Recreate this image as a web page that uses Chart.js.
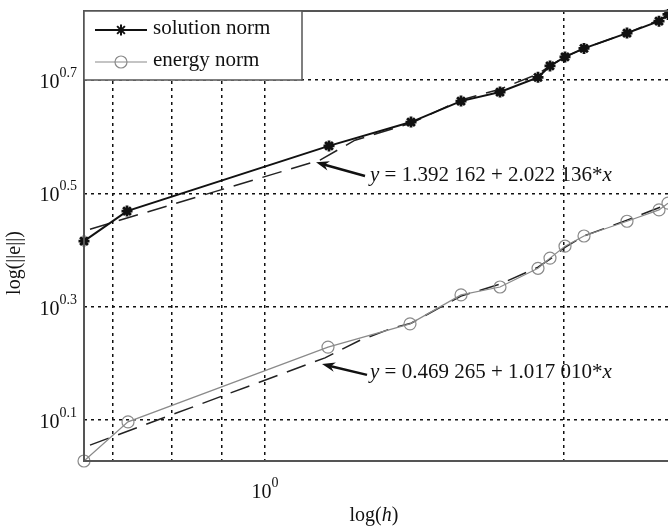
<!DOCTYPE html>
<html lang="en">
<head>
  <meta charset="UTF-8" />
  <title>log error vs log h</title>
  <script src="https://cdn.jsdelivr.net/npm/chart.js"></script>
  <style>
    body {
      margin: 0;
      background: #ffffff;
    }
    #wrap {
      width: 668px;
      height: 528px;
    }
  </style>
</head>
<body>
  <div id="wrap"><canvas id="errChart" width="668" height="528"></canvas></div>

  <script>
    // all values are exponents (log10)
    const solutionX = [-0.181, -0.138, 0.064, 0.146, 0.196, 0.235, 0.273, 0.285, 0.300, 0.319, 0.362, 0.394, 0.403];
    const solutionY = [0.416, 0.469, 0.584, 0.626, 0.663, 0.679, 0.705, 0.725, 0.741, 0.756, 0.783, 0.804, 0.816];

    const energyX = [-0.181, -0.137, 0.063, 0.145, 0.196, 0.235, 0.273, 0.285, 0.300, 0.319, 0.362, 0.394, 0.403];
    const energyY = [0.028, 0.097, 0.229, 0.270, 0.321, 0.335, 0.368, 0.386, 0.407, 0.425, 0.451, 0.471, 0.483];

    const solutionFitX = [-0.175, 0.055, 0.090, 0.146, 0.196, 0.235, 0.273, 0.285, 0.300, 0.319, 0.362, 0.403];
    const solutionFitY = [0.437, 0.559, 0.594, 0.624, 0.665, 0.684, 0.711, 0.725, 0.741, 0.756, 0.783, 0.813];

    const energyFitX = [-0.175, 0.060, 0.095, 0.128, 0.146, 0.196, 0.235, 0.273, 0.285, 0.300, 0.319, 0.362, 0.403];
    const energyFitY = [0.056, 0.210, 0.241, 0.263, 0.271, 0.319, 0.340, 0.370, 0.384, 0.405, 0.425, 0.453, 0.481];

    const gridX = [-0.152, -0.093, -0.043, 0, 0.299];
    const gridY = [0.1, 0.3, 0.5, 0.7];
    const xTickLabels = [{ value: 0, base: '10', exp: '0' }];
    const yTickLabels = [
      { value: 0.1, base: '10', exp: '0.1' },
      { value: 0.3, base: '10', exp: '0.3' },
      { value: 0.5, base: '10', exp: '0.5' },
      { value: 0.7, base: '10', exp: '0.7' }
    ];

    const fitLabels = [
      { text: ['y', ' = 1.392 162 + 2.022 136*', 'x'], tx: 0.105, ty: 0.531, from: [0.100, 0.531], to: [0.051, 0.555] },
      { text: ['y', ' = 0.469 265 + 1.017 010*', 'x'], tx: 0.105, ty: 0.185, from: [0.102, 0.180], to: [0.057, 0.199] }
    ];

    const SERIF = "'Liberation Serif', 'Times New Roman', serif";
    const zip = (xs, ys) => xs.map((x, i) => ({ x: x, y: ys[i] }));

    function drawPow(ctx, base, exp, x, y, align) {
      ctx.font = '20px ' + SERIF;
      const wb = ctx.measureText(base).width;
      ctx.font = '14px ' + SERIF;
      const we = ctx.measureText(exp).width;
      let start = x;
      if (align === 'right') start = x - wb - we;
      if (align === 'center') start = x - (wb + we) / 2;
      ctx.textAlign = 'left';
      ctx.textBaseline = 'alphabetic';
      ctx.font = '20px ' + SERIF;
      ctx.fillText(base, start, y + 8);
      ctx.font = '14px ' + SERIF;
      ctx.fillText(exp, start + wb, y - 3);
    }

    const decorations = {
      id: 'decorations',
      afterDraw(chart) {
        const ctx = chart.ctx;
        const area = chart.chartArea;
        const xs = chart.scales.x;
        const ys = chart.scales.y;
        ctx.save();
        ctx.fillStyle = '#111';

        // axis frame (left, bottom, top)
        ctx.strokeStyle = '#555';
        ctx.lineWidth = 2;
        ctx.beginPath();
        ctx.moveTo(area.right + 2, area.top);
        ctx.lineTo(area.left, area.top);
        ctx.lineTo(area.left, area.bottom);
        ctx.lineTo(area.right + 2, area.bottom);
        ctx.stroke();

        // tick labels
        yTickLabels.forEach(t => drawPow(ctx, t.base, t.exp, area.left - 7, ys.getPixelForValue(t.value), 'right'));
        xTickLabels.forEach(t => drawPow(ctx, t.base, t.exp, xs.getPixelForValue(t.value), area.bottom + 29, 'center'));

        // axis titles
        ctx.font = '20px ' + SERIF;
        ctx.textBaseline = 'middle';
        ctx.textAlign = 'center';
        ctx.save();
        ctx.translate(15, 263);
        ctx.rotate(-Math.PI / 2);
        ctx.fillText('log(||e||)', 0, 0);
        ctx.restore();
        ctx.textAlign = 'left';
        const w1 = ctx.measureText('log(').width;
        ctx.font = 'italic 20px ' + SERIF;
        const w2 = ctx.measureText('h').width;
        ctx.font = '20px ' + SERIF;
        const w3 = ctx.measureText(')').width;
        let lx = 374 - (w1 + w2 + w3) / 2;
        ctx.fillText('log(', lx, 516);
        ctx.font = 'italic 20px ' + SERIF;
        ctx.fillText('h', lx + w1, 516);
        ctx.font = '20px ' + SERIF;
        ctx.fillText(')', lx + w1 + w2, 516);

        // fit equations with arrows
        fitLabels.forEach(f => {
          const x1 = xs.getPixelForValue(f.from[0]), y1 = ys.getPixelForValue(f.from[1]);
          const x2 = xs.getPixelForValue(f.to[0]), y2 = ys.getPixelForValue(f.to[1]);
          const ang = Math.atan2(y2 - y1, x2 - x1);
          ctx.strokeStyle = '#111';
          ctx.lineWidth = 2.5;
          ctx.beginPath();
          ctx.moveTo(x1, y1);
          ctx.lineTo(x2 - 8 * Math.cos(ang), y2 - 8 * Math.sin(ang));
          ctx.stroke();
          ctx.beginPath();
          ctx.moveTo(x2, y2);
          ctx.lineTo(x2 - 14 * Math.cos(ang - 0.35), y2 - 14 * Math.sin(ang - 0.35));
          ctx.lineTo(x2 - 9 * Math.cos(ang), y2 - 9 * Math.sin(ang));
          ctx.lineTo(x2 - 14 * Math.cos(ang + 0.35), y2 - 14 * Math.sin(ang + 0.35));
          ctx.closePath();
          ctx.fill();

          let tx = xs.getPixelForValue(f.tx);
          const ty = ys.getPixelForValue(f.ty);
          ctx.textBaseline = 'middle';
          ctx.textAlign = 'left';
          f.text.forEach((part, i) => {
            ctx.font = (i === 1 ? '' : 'italic ') + '21px ' + SERIF;
            ctx.fillText(part, tx, ty);
            tx += ctx.measureText(part).width;
          });
        });

        // legend box
        const lgL = area.left, lgT = area.top, lgR = 302, lgB = 80;
        ctx.fillStyle = '#ffffff';
        ctx.fillRect(lgL, lgT, lgR - lgL, lgB - lgT);
        ctx.strokeStyle = '#555';
        ctx.lineWidth = 1.5;
        ctx.strokeRect(lgL, lgT, lgR - lgL, lgB - lgT);
        const rows = [0, 1].map(i => chart.data.datasets[i]);
        rows.forEach((ds, i) => {
          const ry = i === 0 ? 30 : 62;
          ctx.strokeStyle = ds.borderColor;
          ctx.lineWidth = ds.borderWidth;
          ctx.beginPath();
          ctx.moveTo(95, ry);
          ctx.lineTo(147, ry);
          ctx.stroke();
          ctx.fillStyle = ds.backgroundColor;
          Chart.helpers.drawPoint(ctx, {
            pointStyle: ds.pointStyle,
            radius: ds.pointRadius,
            borderWidth: ds.pointBorderWidth || ds.borderWidth
          }, 121, ry);
          ctx.fillStyle = '#111';
          ctx.font = '21px ' + SERIF;
          ctx.textAlign = 'left';
          ctx.textBaseline = 'middle';
          ctx.fillText(ds.label, 153, ry - 2);
        });
        ctx.restore();
      }
    };

    const ctx = document.getElementById('errChart').getContext('2d');
    const errChart = new Chart(ctx, {
      type: 'line',
      data: {
        datasets: [
          {
            label: 'solution norm',
            data: zip(solutionX, solutionY),
            borderColor: '#111',
            backgroundColor: '#111',
            borderWidth: 2,
            pointStyle: 'star',
            pointRadius: 5.5,
            pointBorderWidth: 2.8,
            tension: 0,
            clip: false
          },
          {
            label: 'energy norm',
            data: zip(energyX, energyY),
            borderColor: '#8a8a8a',
            backgroundColor: 'rgba(0,0,0,0)',
            borderWidth: 1.2,
            pointStyle: 'circle',
            pointRadius: 6,
            pointBorderWidth: 1.2,
            tension: 0,
            clip: false
          },
          {
            label: 'solution fit',
            data: zip(solutionFitX, solutionFitY),
            borderColor: '#222',
            borderWidth: 1.5,
            borderDash: [20, 10],
            pointRadius: 0,
            tension: 0
          },
          {
            label: 'energy fit',
            data: zip(energyFitX, energyFitY),
            borderColor: '#222',
            borderWidth: 1.5,
            borderDash: [20, 10],
            pointRadius: 0,
            tension: 0
          }
        ]
      },
      options: {
        responsive: false,
        animation: false,
        layout: { autoPadding: false, padding: { left: 84, top: 11, right: 0, bottom: 67 } },
        plugins: {
          legend: { display: false },
          tooltip: { enabled: false }
        },
        scales: {
          x: {
            type: 'linear',
            min: -0.181,
            max: 0.403,
            afterBuildTicks: scale => { scale.ticks = gridX.map(v => ({ value: v })); },
            ticks: { display: false },
            grid: { color: '#111', lineWidth: 1.5, drawTicks: false },
            border: { display: false, dash: [3, 4] }
          },
          y: {
            type: 'linear',
            min: 0.028,
            max: 0.822,
            afterBuildTicks: scale => { scale.ticks = gridY.map(v => ({ value: v })); },
            ticks: { display: false },
            grid: { color: '#111', lineWidth: 1.5, drawTicks: false },
            border: { display: false, dash: [3, 4] }
          }
        }
      },
      plugins: [decorations]
    });
  </script>
</body>
</html>
